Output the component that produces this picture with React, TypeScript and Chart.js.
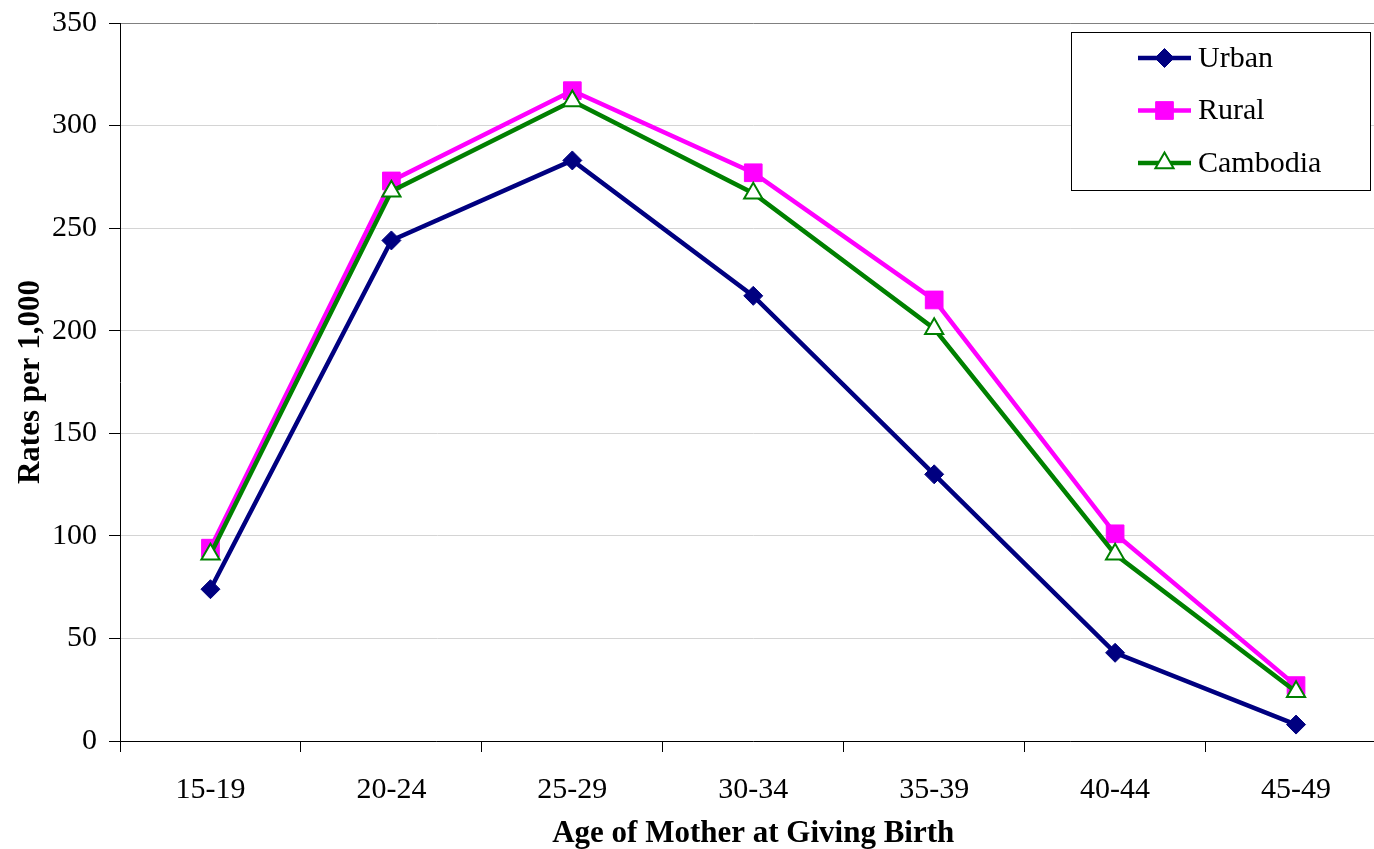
import React, { useEffect, useRef } from 'react';
import { Chart, registerables } from 'chart.js';
import { drawPoint } from 'chart.js/helpers';

Chart.register(...registerables);

const categories = ['15-19', '20-24', '25-29', '30-34', '35-39', '40-44', '45-49'];
const urban = [74, 244, 283, 217, 130, 43, 8];
const rural = [94, 273, 317, 277, 215, 101, 27];
const cambodia = [91, 268, 312, 267, 201, 91, 24];
const seriesNames = ['Urban', 'Rural', 'Cambodia'];
const yMin = 0;
const yMax = 350;
const yStep = 50;
const xTitle = 'Age of Mother at Giving Birth';
const yTitle = 'Rates per 1,000';

const SERIF = '"Liberation Serif", "Times New Roman", serif';

const boxLegend = {
  id: 'boxLegend',
  afterDraw(chart: any) {
    const ctx = chart.ctx as CanvasRenderingContext2D;
    const x0 = 1071, y0 = 32, x1 = 1370, y1 = 190;
    ctx.save();
    ctx.fillStyle = '#ffffff';
    ctx.fillRect(x0, y0, x1 - x0, y1 - y0);
    ctx.strokeStyle = '#000000';
    ctx.lineWidth = 1;
    ctx.strokeRect(x0 + 0.5, y0 + 0.5, x1 - x0, y1 - y0);
    chart.data.datasets.forEach((ds: any, i: number) => {
      const y = 58 + i * 52.5;
      ctx.strokeStyle = ds.borderColor;
      ctx.lineWidth = ds.borderWidth;
      ctx.beginPath();
      ctx.moveTo(1138, y);
      ctx.lineTo(1191, y);
      ctx.stroke();
      ctx.fillStyle = ds.pointBackgroundColor;
      ctx.strokeStyle = ds.pointBorderColor;
      ctx.lineWidth = ds.pointBorderWidth;
      drawPoint(ctx, { pointStyle: ds.pointStyle, radius: ds.pointRadius, rotation: 0, borderWidth: ds.pointBorderWidth } as any, 1164.5, y);
      ctx.fillStyle = '#000000';
      ctx.font = `30px ${SERIF}`;
      ctx.textBaseline = 'middle';
      ctx.textAlign = 'left';
      ctx.fillText(ds.label, 1198, y + 1);
    });
    ctx.restore();
  },
};

export default function App() {
  const ref = useRef<HTMLCanvasElement | null>(null);

  useEffect(() => {
    if (!ref.current) return;
    const chart = new Chart(ref.current, {
      type: 'line',
      data: {
        labels: categories,
        datasets: [
          {
            label: seriesNames[0],
            data: urban,
            borderColor: '#000080',
            backgroundColor: '#000080',
            borderWidth: 4.5,
            pointStyle: 'rectRot',
            pointRadius: 9.5,
            pointBackgroundColor: '#000080',
            pointBorderColor: '#000080',
            pointBorderWidth: 1,
            tension: 0,
            order: 3,
          },
          {
            label: seriesNames[1],
            data: rural,
            borderColor: '#ff00ff',
            backgroundColor: '#ff00ff',
            borderWidth: 4.5,
            pointStyle: 'rect',
            pointRadius: 12.5,
            pointBackgroundColor: '#ff00ff',
            pointBorderColor: '#ff00ff',
            pointBorderWidth: 1,
            tension: 0,
            order: 2,
          },
          {
            label: seriesNames[2],
            data: cambodia,
            borderColor: '#008000',
            backgroundColor: '#ffffff',
            borderWidth: 4.5,
            pointStyle: 'triangle',
            pointRadius: 10.5,
            pointBackgroundColor: '#ffffff',
            pointBorderColor: '#008000',
            pointBorderWidth: 2,
            tension: 0,
            order: 1,
          },
        ] as any,
      },
      options: {
        animation: false,
        responsive: false,
        devicePixelRatio: 1,
        layout: { padding: { top: 23, right: 9, left: 0, bottom: 0 } },
        plugins: {
          legend: { display: false },
          tooltip: { enabled: false },
        },
        scales: {
          x: {
            offset: true,
            grid: {
              offset: true,
              drawOnChartArea: false,
              drawTicks: true,
              tickLength: 11,
              tickColor: '#000000',
            },
            border: { color: '#000000', width: 1 },
            ticks: {
              color: '#000000',
              font: { family: SERIF, size: 30 },
              padding: 20,
              maxRotation: 0,
              autoSkip: false,
            },
            title: {
              display: true,
              text: xTitle,
              color: '#000000',
              font: { family: SERIF, size: 31, weight: 'bold' },
              padding: { top: 0, bottom: -4 },
            },
            afterFit: (scale: any) => {
              scale.height = 108;
              scale.paddingLeft = 0;
              scale.paddingRight = 0;
            },
          },
          y: {
            min: yMin,
            max: yMax,
            grid: {
              color: (c: any) => (c.tick && c.tick.value === yMax ? '#808080' : '#d4d4d4'),
              tickLength: 11,
              tickColor: '#000000',
              lineWidth: 1,
            },
            border: { color: '#000000', width: 1 },
            ticks: {
              stepSize: yStep,
              color: '#000000',
              font: { family: SERIF, size: 30 },
              padding: 12,
            },
            title: {
              display: true,
              text: yTitle,
              color: '#000000',
              font: { family: SERIF, size: 31, weight: 'bold' },
              padding: { top: 12, bottom: 0 },
            },
            afterFit: (scale: any) => {
              scale.width = 120;
              scale.paddingTop = 0;
              scale.paddingBottom = 0;
            },
          },
        },
      },
      plugins: [boxLegend],
    });
    return () => chart.destroy();
  }, []);

  return (
    <div
      style={{
        position: 'fixed',
        left: 0,
        top: 0,
        width: 1374,
        height: 849,
        overflow: 'hidden',
        background: '#ffffff',
      }}
    >
      <canvas ref={ref} width={1400} height={849} style={{ display: 'block', width: 1400, height: 849 }} />
    </div>
  );
}
